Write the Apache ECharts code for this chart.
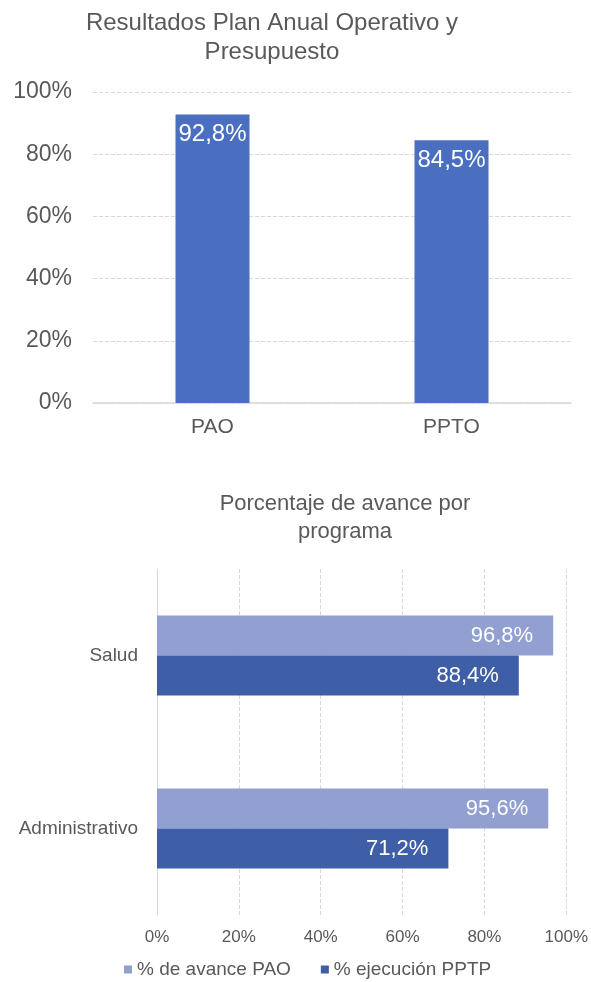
<!DOCTYPE html>
<html>
<head>
<meta charset="utf-8">
<script src="https://cdn.jsdelivr.net/npm/echarts@6/dist/echarts.min.js"></script>
<style>
  html, body { margin: 0; padding: 0; background: #fff; }
  #chart { width: 591px; height: 982px; }
</style>
</head>
<body>
<div id="chart"></div>
<script>
// grafico superior
var topCats = ['PAO', 'PPTO'];
var topValues = [92.8, 84.5];

// grafico inferior
var progCats = ['Salud', 'Administrativo'];
var avancePAO = [96.8, 95.6];
var ejecucionPPTP = [88.4, 71.2];
var seriesNames = ['% de avance PAO', '% ejecución PPTP'];

var font = '"Liberation Sans", Arial, sans-serif';
var gris = '#595959';

function pctLabel(p) {
  return p.value.toFixed(1).replace('.', ',') + '%';
}

var chart = echarts.init(document.getElementById('chart'));
var option = {
  animation: false,
  textStyle: { fontFamily: font },
  title: [{
    text: 'Resultados Plan Anual Operativo y\nPresupuesto',
    left: 267, top: 4, textAlign: 'center',
    textStyle: { fontSize: 24, fontWeight: 'normal', color: gris, lineHeight: 29, fontFamily: font }
  }, {
    text: 'Porcentaje de avance por\nprograma',
    left: 340, top: 485, textAlign: 'center',
    textStyle: { fontSize: 22, fontWeight: 'normal', color: gris, lineHeight: 28, fontFamily: font }
  }],
  legend: {
    data: seriesNames,
    left: 119, top: 955,
    itemWidth: 8, itemHeight: 8, itemGap: 30,
    icon: 'rect',
    textStyle: { fontSize: 19, color: gris, fontFamily: font }
  },
  grid: [
    { left: 93, right: 20, top: 92, bottom: 579 },
    { left: 157, right: 24, top: 569, bottom: 67 }
  ],
  xAxis: [{
    gridIndex: 0, type: 'category', data: topCats,
    axisLine: { lineStyle: { color: '#d9d9d9', width: 1.5 } },
    axisTick: { show: false },
    axisLabel: { fontSize: 21, color: gris, margin: 14 }
  }, {
    gridIndex: 1, type: 'value', min: 0, max: 100, interval: 20,
    axisLabel: { fontSize: 17, color: gris, margin: 14, formatter: '{value}%' },
    splitLine: { lineStyle: { type: 'dashed', color: '#d9d9d9' } }
  }],
  yAxis: [{
    gridIndex: 0, type: 'value', min: 0, max: 100, interval: 20,
    axisLine: { show: false }, axisTick: { show: false },
    axisLabel: { fontSize: 23, color: gris, margin: 21, formatter: '{value}%' },
    splitLine: { lineStyle: { type: 'dashed', color: '#d9d9d9' } }
  }, {
    gridIndex: 1, type: 'category', data: progCats, inverse: true,
    axisLine: { show: true, lineStyle: { color: '#d9d9d9' } },
    axisTick: { show: false },
    axisLabel: { fontSize: 19, color: gris, margin: 19 }
  }],
  series: [{
    type: 'bar', xAxisIndex: 0, yAxisIndex: 0,
    data: topValues, barWidth: 74,
    itemStyle: { color: '#4a6fc0' },
    label: { show: true, position: 'insideTop', distance: 8, color: '#fff', fontSize: 24, formatter: pctLabel }
  }, {
    name: seriesNames[0], type: 'bar', xAxisIndex: 1, yAxisIndex: 1,
    data: avancePAO, barWidth: 40, barGap: '0%',
    itemStyle: { color: '#919fd1' },
    label: { show: true, position: 'insideRight', distance: 20, color: '#fff', fontSize: 22, formatter: pctLabel }
  }, {
    name: seriesNames[1], type: 'bar', xAxisIndex: 1, yAxisIndex: 1,
    data: ejecucionPPTP, barWidth: 40, barGap: '0%',
    itemStyle: { color: '#3f5ea8' },
    label: { show: true, position: 'insideRight', distance: 20, color: '#fff', fontSize: 22, formatter: pctLabel }
  }]
};
chart.setOption(option);
</script>
</body>
</html>
